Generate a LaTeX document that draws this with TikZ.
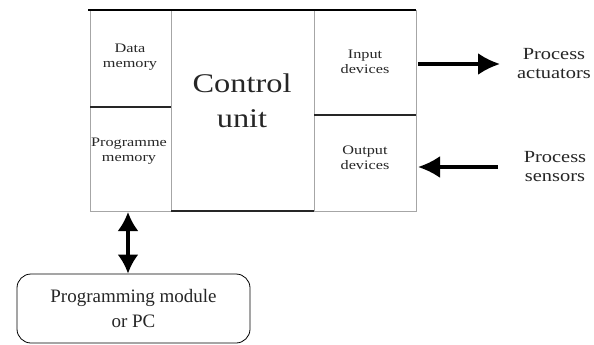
\documentclass[tikz,border=0pt]{standalone}
\usepackage{fontspec}
\setmainfont{Liberation Serif}
\usetikzlibrary{arrows.meta,positioning,calc}

\begin{document}
\begin{tikzpicture}[
  x=1pt, y=-1pt,
  cell/.style={align=center, text=black!85, xscale=1.25,
               font=\fontsize{13}{15}\selectfont},
  big/.style={align=center, text=black!85, xscale=1.2,
              font=\fontsize{27}{35}\selectfont},
  side/.style={align=center, text=black!85, xscale=1.2,
               font=\fontsize{17}{19}\selectfont},
  pcbox/.style={draw, thick, rounded corners=14pt, align=center,
                minimum width=233pt, minimum height=69pt, text=black!85,
                font=\fontsize{19}{25}\selectfont},
  frame/.style={draw=black!35, line width=0.8pt},
  divider/.style={draw=black!85, line width=1.3pt},
  bigarrow/.style={line width=3.2pt, -{Latex[length=22pt,width=22pt]}},
  dblarrow/.style={line width=3.2pt, {Latex[length=19pt,width=21pt]}-{Latex[length=19pt,width=21pt]}}
]
\useasboundingbox (0,0) rectangle (594,345);

% frame of the controller
\coordinate (tl) at (90,10);
\coordinate (tr) at (416,10);
\coordinate (bl) at (90,211);
\coordinate (br) at (416,211);
\coordinate (c1) at (171,10);
\coordinate (c2) at (314,10);

\draw[frame] (tl) -- (bl) -- (br) -- (tr);
\draw[frame] (c1) -- (c1 |- bl);
\draw[frame] (c2) -- (c2 |- bl);
\draw[line width=2pt] ($(tl)+(-2,0)$) -- (tr);
\draw[divider] (90,107) -- (171,107);
\draw[divider] (314,115) -- (416,115);
\draw[divider] (c1 |- bl) -- (c2 |- bl);

\node[cell] (datamem) at (130,57) {Data\\memory};
\node[cell] (progmem) at (129,151) {Programme\\memory};
\node[big] (control) at (242,101) {Control\\unit};
\node[cell] (input) at (365,62) {Input\\devices};
\node[cell] (output) at (365,158) {Output\\devices};

\node[side] (actuators) at (554,64) {Process\\actuators};
\node[side] (sensors) at (555,167) {Process\\sensors};

\node[pcbox] (pc) at (133.5,308.5) {Programming module\\or PC};

\draw[bigarrow] ($(tr |- actuators)+(2,0)$) -- (500,64);
\draw[bigarrow] (498,167) -- ($(tr |- sensors)+(2,0)$);
\draw[dblarrow] (128,212) -- (pc.north -| 128,0);
\end{tikzpicture}
\end{document}
